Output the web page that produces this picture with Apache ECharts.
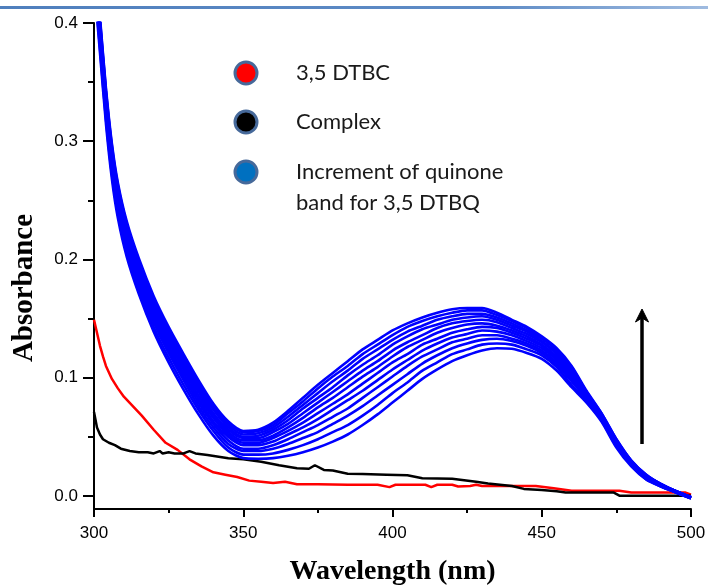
<!DOCTYPE html>
<html>
<head>
<meta charset="utf-8">
<script src="https://cdn.jsdelivr.net/npm/echarts@6/dist/echarts.min.js"></script>
<style>html,body{margin:0;padding:0;background:#fff}#c{width:708px;height:585px}</style>
</head>
<body>
<div id="c"></div>
<script>
// ---- data ----
const wavelengths = [300,302,304,306,308,311,315,320,325,330,335,340,345,350,355,360,365,370,375,380,385,390,395,400,405,410,415,420,425,430,435,440,445,450,455,460,465,470,475,480,485,490,495,500];
const scan01 = [.435,.375,.315,.268,.235,.202,.171,.139,.113,.090,.069,.051,.038,.032,.0315,.032,.034,.037,.041,.046,.052,.060,.069,.079,.089,.099,.107,.114,.119,.123,.125,.1245,.121,.116,.106,.092,.079,.063,.041,.025,.014,.008,.003,-.002];
const scan02 = [.439,.379,.319,.272,.239,.206,.175,.143,.117,.094,.073,.055,.041,.035,.035,.036,.039,.043,.048,.054,.060,.068,.077,.087,.096,.106,.113,.120,.124,.128,.129,.128,.124,.119,.109,.094,.080,.064,.042,.026,.014,.008,.003,-.002];
const scan03 = [.443,.383,.323,.276,.243,.210,.179,.147,.121,.098,.076,.058,.044,.038,.038,.040,.044,.049,.054,.061,.068,.076,.085,.094,.103,.112,.119,.125,.129,.132,.133,.131,.127,.121,.111,.097,.082,.065,.043,.026,.015,.008,.003,-.002];
const scan04 = [.446,.386,.326,.279,.246,.213,.182,.150,.124,.101,.079,.061,.047,.040,.040,.043,.048,.054,.060,.067,.074,.083,.092,.101,.110,.118,.124,.130,.133,.136,.136,.133,.129,.123,.113,.099,.083,.066,.044,.027,.015,.009,.003,-.002];
const scan05 = [.449,.389,.329,.282,.249,.216,.185,.153,.127,.104,.082,.063,.050,.043,.043,.046,.052,.058,.065,.073,.081,.089,.098,.107,.115,.123,.129,.134,.137,.140,.139,.136,.131,.125,.115,.100,.084,.066,.044,.027,.016,.009,.003,-.002];
const scan06 = [.452,.392,.332,.285,.252,.219,.188,.156,.130,.107,.085,.066,.052,.045,.045,.049,.055,.062,.070,.078,.086,.095,.104,.113,.120,.128,.133,.138,.141,.143,.142,.138,.133,.127,.117,.102,.085,.067,.045,.028,.016,.009,.004,-.001];
const scan07 = [.454,.394,.334,.287,.254,.221,.190,.158,.132,.109,.088,.068,.054,.047,.047,.051,.058,.066,.075,.083,.092,.101,.109,.118,.126,.132,.138,.142,.145,.146,.144,.140,.135,.128,.118,.104,.085,.068,.046,.028,.017,.009,.004,-.001];
const scan08 = [.457,.397,.337,.290,.257,.224,.193,.161,.135,.112,.090,.070,.056,.049,.049,.054,.061,.070,.079,.088,.097,.106,.114,.123,.130,.136,.142,.146,.148,.149,.147,.142,.137,.130,.120,.105,.086,.068,.046,.029,.017,.009,.004,-.001];
const scan09 = [.459,.399,.339,.292,.259,.226,.195,.163,.137,.114,.092,.073,.058,.050,.051,.056,.064,.074,.083,.092,.102,.111,.119,.128,.135,.141,.145,.149,.151,.152,.149,.144,.139,.131,.121,.106,.087,.069,.047,.029,.017,.010,.004,-.001];
const scan10 = [.461,.401,.341,.294,.261,.228,.197,.165,.139,.116,.094,.075,.060,.052,.053,.058,.067,.077,.087,.097,.106,.116,.124,.132,.139,.144,.149,.152,.154,.154,.151,.146,.140,.133,.123,.108,.088,.069,.047,.029,.017,.010,.004,-.001];
const scan11 = [.463,.403,.343,.296,.263,.230,.199,.167,.141,.118,.096,.076,.062,.054,.055,.060,.070,.080,.091,.101,.110,.120,.128,.136,.143,.148,.152,.155,.157,.157,.153,.148,.142,.134,.124,.109,.088,.070,.048,.030,.018,.010,.004,-.001];
const scan12 = [.465,.405,.345,.298,.265,.232,.201,.169,.143,.120,.098,.078,.063,.055,.056,.062,.072,.083,.094,.104,.114,.124,.132,.140,.146,.151,.155,.158,.159,.159,.155,.149,.143,.135,.125,.110,.089,.070,.048,.030,.018,.010,.004,-.001];

const dtbcX = [300,301,302,303,304,306,308,310,313,316,320,324,328,332,336,340,344,348,352,356,360,364,368,375,385,395,399,401,405,411,413,415,420,422,426,428,430,440,448,454,460,470,476,480,490,498,500];
const dtbcY = [.149,.138,.127,.118,.110,.099,.091,.084,.076,.068,.056,.045,.039,.031,.025,.020,.018,.016,.013,.012,.011,.012,.010,.010,.0095,.0095,.0075,.0095,.0095,.0095,.0075,.0095,.0095,.0080,.0085,.0095,.0085,.0085,.0085,.0065,.0045,.0045,.0045,.003,.003,.003,.0012];

const complexX = [300,301,302,303,305,307,309,312,315,318,320,322,323,325,327,330,332,334,338,345,350,356,362,368,372,374,377,380,385,390,398,405,410,420,428,432,440,444,450,455,458,474,476,500];
const complexY = [.071,.058,.052,.048,.045,.043,.040,.038,.037,.037,.036,.038,.036,.037,.036,.036,.038,.036,.0347,.032,.031,.029,.026,.0234,.023,.026,.022,.0215,.0188,.0185,.018,.0175,.015,.0145,.012,.0105,.0085,.006,.005,.004,.003,.003,.0003,.0003];

const legendNames = ['3,5 DTBC', 'Complex', 'Increment of quinone', 'band for 3,5 DTBQ'];
const yTicks = [0, 0.1, 0.2, 0.3, 0.4];
const yMinorTicks = [0.05, 0.15, 0.25, 0.35];

// ---- chart ----
const chart = echarts.init(document.getElementById('c'), null, {renderer: 'canvas'});
const scans = [scan01,scan02,scan03,scan04,scan05,scan06,scan07,scan08,scan09,scan10,scan11,scan12];
const pair = (xs, ys) => xs.map((x, i) => [x, ys[i]]);

const series = [
  {name: '3,5 DTBC', type: 'line', data: pair(dtbcX, dtbcY), showSymbol: false, lineStyle: {color: '#ff0000', width: 2.5}, z: 2, animation: false},
  {name: 'Complex', type: 'line', data: pair(complexX, complexY), showSymbol: false, lineStyle: {color: '#000000', width: 2.5}, z: 2, animation: false}
];
scans.forEach(s => series.push({
  name: 'Increment of quinone band for 3,5 DTBQ', type: 'line', data: pair(wavelengths, s),
  showSymbol: false, smooth: 0.25, lineStyle: {color: '#0000ff', width: 2.6}, z: 3, animation: false
}));

const legendY = [73, 122, 172];
const legendFill = ['#ff0000', '#000000', '#0070c0'];
const graphics = [
  {type: 'rect', shape: {x: 0, y: 6, width: 708, height: 3},
   style: {fill: new echarts.graphic.LinearGradient(0, 0, 1, 0, [{offset: 0, color: '#4f7fbd'}, {offset: 0.7, color: '#5f8cc6'}, {offset: 1, color: '#9fbbe0'}])}},
  {type: 'text', x: 25, y: 288, rotation: Math.PI / 2,
   style: {text: 'Absorbance', font: 'bold 29px "Liberation Serif"', fill: '#000', align: 'center', verticalAlign: 'middle'}},
  {type: 'line', shape: {x1: 642, y1: 444, x2: 642, y2: 316}, style: {stroke: '#000', lineWidth: 3.5}},
  {type: 'polygon', shape: {points: [[642, 309], [648.5, 322], [642, 318], [635.5, 322]]}, style: {fill: '#000', stroke: '#000', lineWidth: 1}}
];
legendY.forEach((y, i) => {
  graphics.push({type: 'circle', shape: {cx: 246, cy: y, r: 11}, style: {fill: legendFill[i], stroke: '#46699a', lineWidth: 3}});
});
[73, 122, 172, 203].forEach((y, i) => {
  graphics.push({type: 'text', x: 296, y: y, style: {text: legendNames[i], font: '22px Lato', fill: '#1a1a1a', align: 'left', verticalAlign: 'middle'}});
});

chart.setOption({
  animation: false,
  backgroundColor: '#fff',
  grid: {left: 94, right: 17, top: 23, bottom: 76, containLabel: false, outerBoundsMode: 'none'},
  xAxis: {
    type: 'value', min: 300, max: 500, interval: 50,
    axisLine: {show: true, onZero: false, lineStyle: {color: '#000', width: 2}},
    axisTick: {show: true, length: 8, lineStyle: {color: '#000', width: 2}},
    minorTick: {show: true, splitNumber: 2, length: 4, lineStyle: {color: '#000', width: 2}},
    axisLabel: {margin: 16, fontSize: 17, color: '#000', fontFamily: 'Liberation Sans'},
    splitLine: {show: false},
    name: 'Wavelength (nm)', nameLocation: 'middle', nameGap: 49,
    nameTextStyle: {fontFamily: 'Liberation Serif', fontWeight: 'bold', fontSize: 28, color: '#000'}
  },
  yAxis: [
    {
      type: 'value', min: -0.011, max: 0.4,
      axisLine: {show: true, lineStyle: {color: '#000', width: 2}},
      axisTick: {show: true, length: 11, customValues: yTicks, lineStyle: {color: '#000', width: 2}},
      axisLabel: {show: true, customValues: yTicks, formatter: v => v.toFixed(1), margin: 16, fontSize: 17, color: '#000', fontFamily: 'Liberation Sans'},
      splitLine: {show: false}
    },
    {
      type: 'value', min: -0.011, max: 0.4, position: 'left',
      axisLine: {show: false},
      axisTick: {show: true, length: 6, customValues: yMinorTicks, lineStyle: {color: '#000', width: 2}},
      axisLabel: {show: false},
      splitLine: {show: false}
    }
  ],
  series: series,
  graphic: graphics
});
</script>
</body>
</html>
